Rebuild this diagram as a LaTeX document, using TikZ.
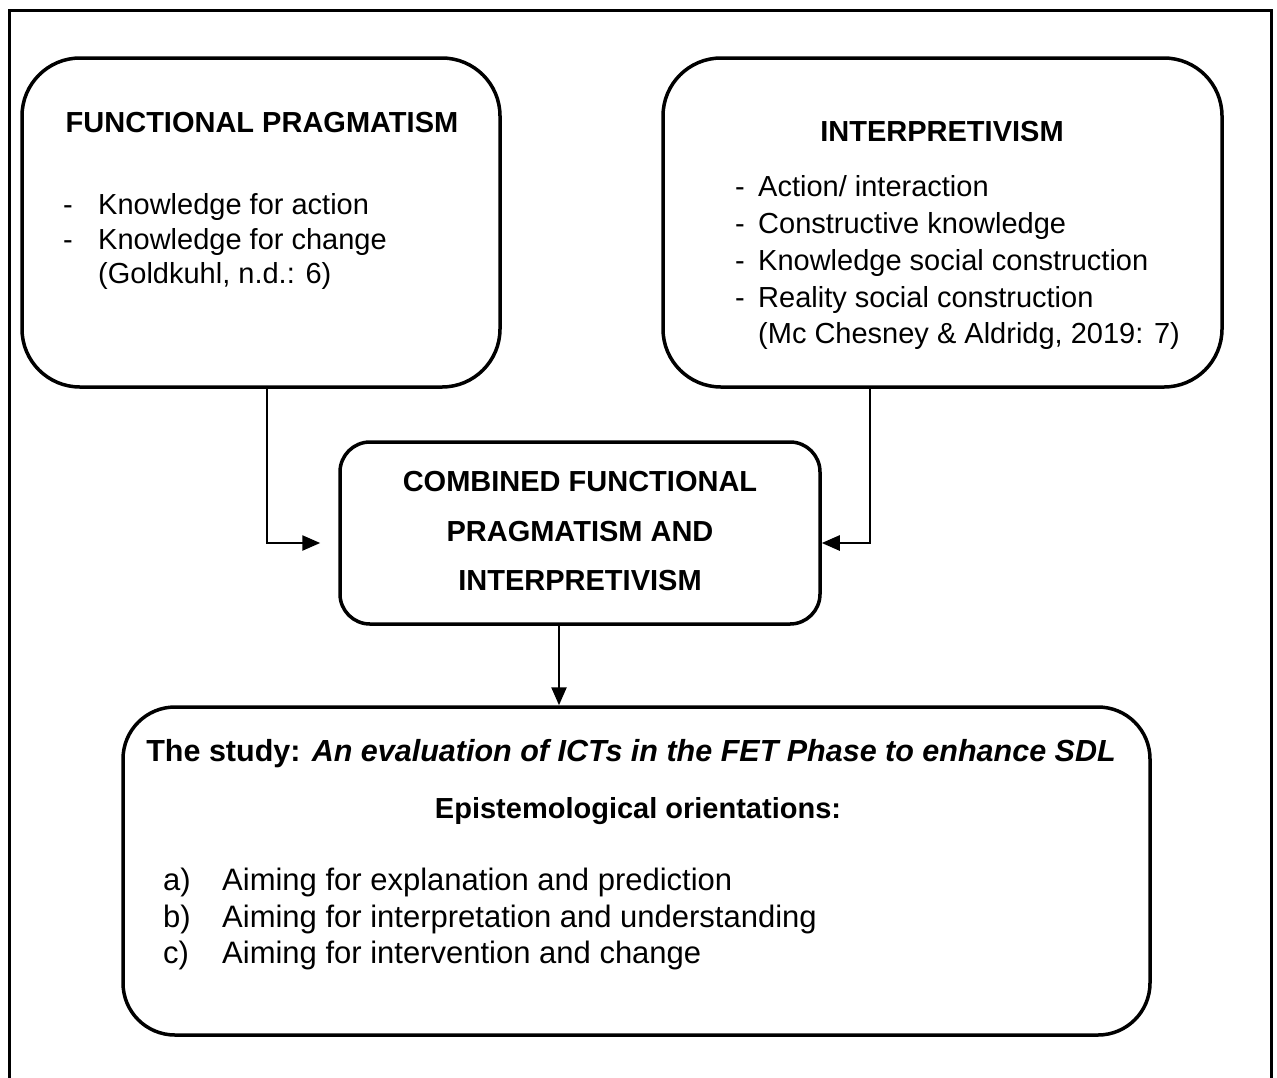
\documentclass[tikz,border=0pt]{standalone}
\usepackage{fontspec}
\setmainfont{Liberation Sans}
\usetikzlibrary{arrows.meta}
\begin{document}
\begin{tikzpicture}[x=1pt,y=-1pt,
  frame/.style={line width=3pt},
  rbox/.style={draw,line width=3.5pt,rounded corners=#1,inner sep=0pt},
  arr/.style={line width=2.5pt,-{Triangle[length=18pt,width=15pt]}},
  txt/.style={inner sep=0pt,font=\fontsize{29}{34}\selectfont},
  bigtxt/.style={inner sep=0pt,font=\fontsize{31}{36}\selectfont},
  head/.style={txt,font=\fontsize{29}{34}\selectfont\bfseries}]
\useasboundingbox (0,0) rectangle (1277,1077);
% outer frame (open at the bottom)
\draw[frame] (9,1080) -- (9,10) -- (1271,10) -- (1271,1080);

% boxes
\node[rbox=58pt,minimum width=478pt,minimum height=329pt] (fp) at (261,222.5) {};
\node[rbox=58pt,minimum width=559pt,minimum height=329pt] (ip) at (942.5,222.5) {};
\node[rbox=30pt,minimum width=480pt,minimum height=182pt] (cb) at (580,533) {};
\node[rbox=52pt,minimum width=1027pt,minimum height=328pt] (st) at (636.5,871) {};

% functional pragmatism
\node[head,anchor=base] (fph) at (262,132) {FUNCTIONAL PRAGMATISM};
\node[txt,anchor=base west] (fpd1) at (63,214) {-};
\node[txt,anchor=base west] (fpd2) at (63,249) {-};
\node[txt,anchor=base west] (fp1) at (98,214) {Knowledge for action};
\node[txt,anchor=base west] (fp2) at (98,249) {Knowledge for change};
\node[txt,anchor=base west] (fp3) at (98,283) {(Goldkuhl, n.d.: 6)};

% interpretivism
\node[head,anchor=base] (iph) at (942,141) {INTERPRETIVISM};
\node[txt,anchor=base west] (ipd1) at (735,196) {-};
\node[txt,anchor=base west] (ipd2) at (735,233) {-};
\node[txt,anchor=base west] (ipd3) at (735,270) {-};
\node[txt,anchor=base west] (ipd4) at (735,307) {-};
\node[txt,anchor=base west] (ip1) at (758,196) {Action/ interaction};
\node[txt,anchor=base west] (ip2) at (758,233) {Constructive knowledge};
\node[txt,anchor=base west] (ip3) at (758,270) {Knowledge social construction};
\node[txt,anchor=base west] (ip4) at (758,307) {Reality social construction};
\node[txt,anchor=base west] (ip5) at (758,343) {(Mc Chesney \& Aldridg, 2019: 7)};

% combined
\node[head,anchor=base] (cb1) at (580,491) {COMBINED FUNCTIONAL};
\node[head,anchor=base] (cb2) at (580,541) {PRAGMATISM AND};
\node[head,anchor=base] (cb3) at (580,590) {INTERPRETIVISM};

% the study
\node[head,anchor=base,font=\fontsize{30.5}{36}\selectfont\bfseries] (st1) at (631,761) {The study: \textit{An evaluation of ICTs in the FET Phase to enhance SDL}};
\node[head,anchor=base] (st2) at (638,818) {Epistemological orientations:};
\node[bigtxt,anchor=base west] (sta) at (163,890) {a)};
\node[bigtxt,anchor=base west] (stb) at (163,927) {b)};
\node[bigtxt,anchor=base west] (stc) at (163,963) {c)};
\node[bigtxt,anchor=base west] (st3) at (222,890) {Aiming for explanation and prediction};
\node[bigtxt,anchor=base west] (st4) at (222,927) {Aiming for interpretation and understanding};
\node[bigtxt,anchor=base west] (st5) at (222,963) {Aiming for intervention and change};

% connectors
\draw[arr] ([xshift=6pt]fp.south) |- ([xshift=-18pt,yshift=-10pt]cb.west);
\draw[arr] ([xshift=-72.5pt]ip.south) |- ([yshift=-10pt]cb.east);
\draw[arr] ([xshift=-21pt]cb.south) -- ([xshift=-21pt]cb.south |- st.north);
\end{tikzpicture}
\end{document}
